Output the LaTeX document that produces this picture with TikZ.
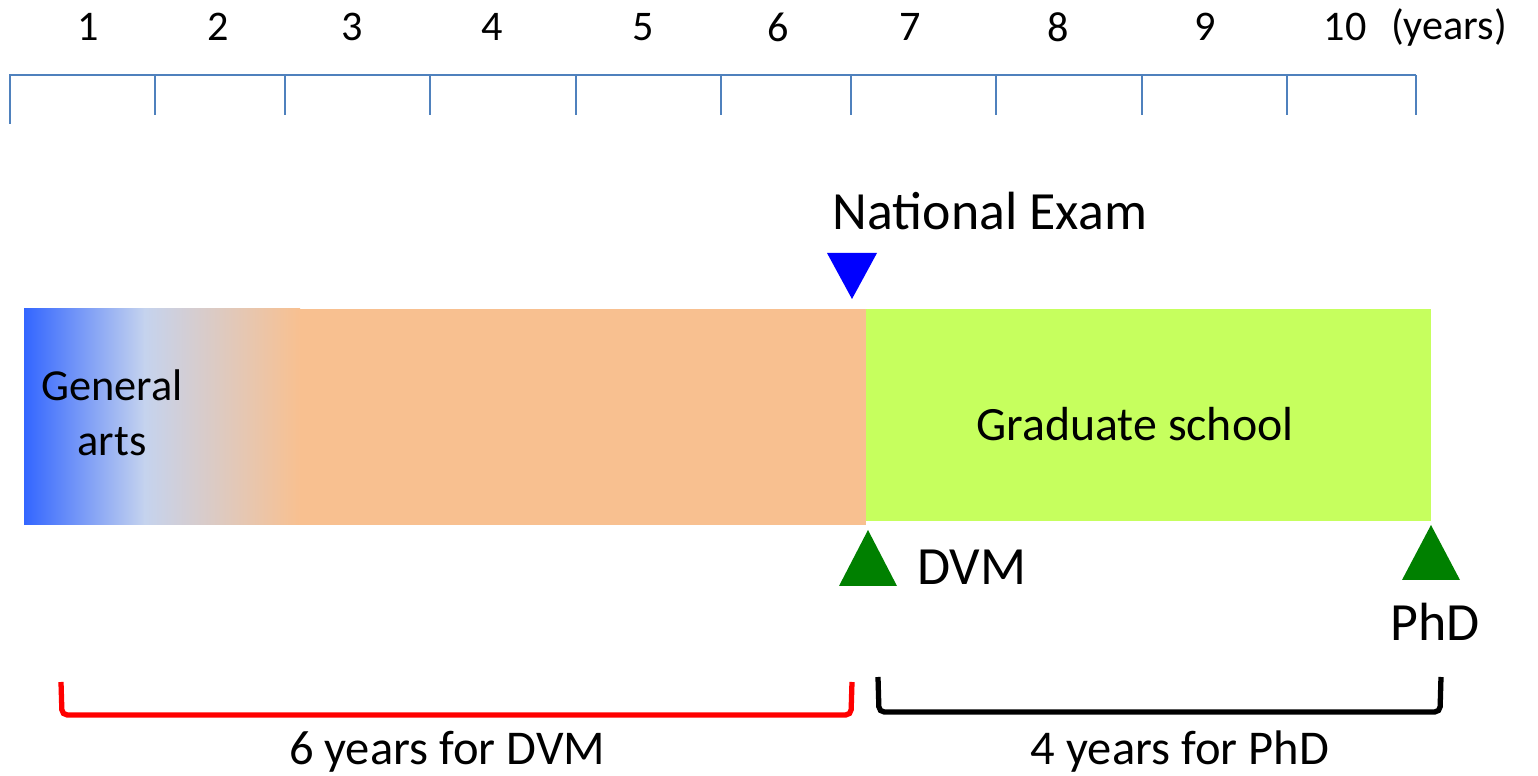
\documentclass[tikz,border=0pt]{standalone}
\usepackage{fontspec}
\setmainfont{Carlito}
\usepackage{tikz}

\definecolor{rulerblue}{RGB}{79,129,189}
\definecolor{artsblue}{RGB}{51,102,255}
\definecolor{artslight}{RGB}{197,211,238}
\definecolor{dvmpeach}{RGB}{248,192,144}
\definecolor{gradgreen}{RGB}{198,255,94}
\definecolor{markgreen}{RGB}{0,128,0}

\tikzset{
  yearlabel/.style={font=\fontsize{12}{14}\selectfont, inner sep=0pt},
  phaselabel/.style={font=\fontsize{13.6}{16}\selectfont, inner sep=0pt, align=center},
  artslabel/.style={font=\fontsize{12.6}{15.5}\selectfont, inner sep=0pt, align=center},
  spanlabel/.style={font=\fontsize{13.8}{16}\selectfont, inner sep=0pt},
  marklabel/.style={font=\fontsize{15.3}{18}\selectfont, inner sep=0pt},
  rulerline/.style={rulerblue, line width=0.6pt},
  bracket/.style={line width=1.5pt, rounded corners=1.5pt}
}

\begin{document}
\begin{tikzpicture}[x=0.01cm, y=-0.01cm]
  \useasboundingbox (0,0) rectangle (1538,776);

  % ruler
  \draw[rulerline] (10,124) -- (10,75) -- (1416,75);
  \foreach \tx in {155,285,430,576,721,851,996,1142,1287,1416}
    \draw[rulerline] (\tx,75) -- (\tx,115);
  \foreach \yr/\lx in {1/88,2/218,3/352,4/492,5/643,6/778,7/910,8/1058,9/1205,10/1345}
    \node[yearlabel] (year\yr) at (\lx,27) {\yr};
  \node[yearlabel] (unit) at (1449,27) {(years)};

  % phases
  \fill[dvmpeach] (24,309) rectangle (866,525);
  \shade[left color=artsblue, right color=artslight] (24,309) rectangle (145,525);
  \shade[left color=artslight, right color=dvmpeach] (144.5,309) rectangle (300,525);
  \fill[gradgreen] (866,309) rectangle (1431,521);
  \node[artslabel] (arts) at (112,413) {General\\arts};
  \node[phaselabel] (grad) at (1135,424) {Graduate school};

  % milestones
  \fill[blue] (827,253) -- (877,253) -- (852,299) -- cycle;
  \node[marklabel] (exam) at (990,211) {National Exam};
  \fill[markgreen] (868,530) -- (897,586) -- (839,586) -- cycle;
  \node[marklabel] (dvm) at (972,567) {DVM};
  \fill[markgreen] (1431,525) -- (1460,580) -- (1402,580) -- cycle;
  \node[marklabel] (phd) at (1435,622) {PhD};

  % durations
  \draw[bracket, red] (61,682) -- (62,715) -- (851,715) -- (852,682);
  \draw[bracket, black] (878,677) -- (879,712) -- (1440,712) -- (1441,677);
  \node[spanlabel] (six) at (447,752) {6 years for DVM};
  \node[spanlabel] (four) at (1180,752) {4 years for PhD};
\end{tikzpicture}
\end{document}
